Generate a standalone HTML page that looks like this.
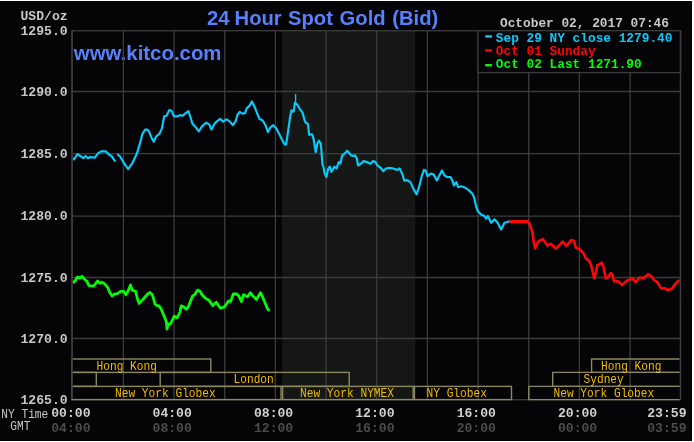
<!DOCTYPE html>
<html><head><meta charset="utf-8"><style>
html,body{margin:0;padding:0;background:#050407;overflow:hidden;}
svg{display:block;will-change:transform;}
.mb{font-family:"Liberation Mono",monospace;font-weight:bold;font-size:13.1px;}
.mb2{font-family:"Liberation Mono",monospace;font-weight:bold;font-size:12.8px;}
.mr{font-family:"Liberation Mono",monospace;font-size:11.2px;}
.mr2{font-family:"Liberation Mono",monospace;font-size:12.8px;}
text{white-space:pre;}
</style></head><body>
<svg width="694" height="442" viewBox="0 0 694 442">
<rect x="0" y="0" width="694" height="442" fill="#ffffff"/>
<rect x="0" y="1" width="692" height="440" fill="#050407"/>
<rect x="282.1" y="30.7" width="133.2" height="369.0" fill="#151715"/>
<text x="207" y="24.8" font-family="Liberation Sans" font-weight="bold" font-size="20.2" fill="#5880fc">24</text>
<text x="234.6" y="24.8" font-family="Liberation Sans" font-weight="bold" font-size="20.2" fill="#5880fc">Hour</text>
<text x="288" y="24.8" font-family="Liberation Sans" font-weight="bold" font-size="20.2" fill="#5880fc">Spot</text>
<text x="339.6" y="24.8" font-family="Liberation Sans" font-weight="bold" font-size="20.2" fill="#5880fc">Gold</text>
<text x="392.3" y="24.8" font-family="Liberation Sans" font-weight="bold" font-size="20.2" fill="#5880fc">(Bid)</text>
<text x="73.8" y="60.2" font-family="Liberation Sans" font-weight="bold" font-size="20.4" fill="#5880fc">www.kitco.com</text>
<line x1="72.1" y1="91.5" x2="680.5" y2="91.5" stroke="#3c3c3c" stroke-width="1.3"/>
<line x1="72.1" y1="153.7" x2="680.5" y2="153.7" stroke="#3c3c3c" stroke-width="1.3"/>
<line x1="72.1" y1="216.1" x2="680.5" y2="216.1" stroke="#3c3c3c" stroke-width="1.3"/>
<line x1="72.1" y1="277.5" x2="680.5" y2="277.5" stroke="#3c3c3c" stroke-width="1.3"/>
<line x1="72.1" y1="338.5" x2="680.5" y2="338.5" stroke="#3c3c3c" stroke-width="1.3"/>
<line x1="123.4" y1="30.7" x2="123.4" y2="399.7" stroke="#3c3c3c" stroke-width="1.3"/>
<line x1="174.0" y1="30.7" x2="174.0" y2="399.7" stroke="#3c3c3c" stroke-width="1.3"/>
<line x1="224.7" y1="30.7" x2="224.7" y2="399.7" stroke="#3c3c3c" stroke-width="1.3"/>
<line x1="275.4" y1="30.7" x2="275.4" y2="399.7" stroke="#3c3c3c" stroke-width="1.3"/>
<line x1="326.1" y1="30.7" x2="326.1" y2="399.7" stroke="#3c3c3c" stroke-width="1.3"/>
<line x1="376.7" y1="30.7" x2="376.7" y2="399.7" stroke="#3c3c3c" stroke-width="1.3"/>
<line x1="427.4" y1="30.7" x2="427.4" y2="399.7" stroke="#3c3c3c" stroke-width="1.3"/>
<line x1="478.1" y1="30.7" x2="478.1" y2="399.7" stroke="#3c3c3c" stroke-width="1.3"/>
<line x1="528.7" y1="30.7" x2="528.7" y2="399.7" stroke="#3c3c3c" stroke-width="1.3"/>
<line x1="579.4" y1="30.7" x2="579.4" y2="399.7" stroke="#3c3c3c" stroke-width="1.3"/>
<line x1="630.1" y1="30.7" x2="630.1" y2="399.7" stroke="#3c3c3c" stroke-width="1.3"/>
<rect x="72.1" y="30.7" width="608.4" height="369.0" fill="none" stroke="#3c3c3c" stroke-width="1.3"/>
<text x="20.5" y="35.0" class="mb" fill="#c8c8c8">1295.0</text>
<text x="20.5" y="95.8" class="mb" fill="#c8c8c8">1290.0</text>
<text x="20.5" y="158.0" class="mb" fill="#c8c8c8">1285.0</text>
<text x="20.5" y="220.4" class="mb" fill="#c8c8c8">1280.0</text>
<text x="20.5" y="281.8" class="mb" fill="#c8c8c8">1275.0</text>
<text x="20.5" y="342.8" class="mb" fill="#c8c8c8">1270.0</text>
<text x="20.5" y="404.0" class="mb" fill="#c8c8c8">1265.0</text>
<text x="20.5" y="19.5" class="mb" fill="#c8c8c8">USD/oz</text>
<text x="500" y="27" class="mb2" fill="#c8c8c8">October 02, 2017 07:46</text>
<rect x="478" y="30.7" width="202.5" height="41.9" fill="#050407" stroke="#3c3c3c" stroke-width="1.3"/>
<rect x="485.2" y="35.2" width="6.7" height="2.4" fill="#0cc8f8"/>
<rect x="485.2" y="49.3" width="6.7" height="2.4" fill="#fa0808"/>
<rect x="485.2" y="64" width="6.7" height="2.4" fill="#08f808"/>
<text x="495.8" y="42" class="mb2" fill="#0cc8f8">Sep 29 NY close 1279.40</text>
<text x="495.8" y="55.2" class="mb2" fill="#fa0808">Oct 01 Sunday</text>
<text x="495.8" y="68.4" class="mb2" fill="#08f808">Oct 02 Last 1271.90</text>
<polyline points="72.3,158.2 74.0,159.4 77.5,154.2 80.4,156.0 83.3,158.2 85.6,156.0 87.9,158.2 90.2,157.1 94.8,157.7 97.7,153.6 101.1,151.3 105.7,151.3 109.2,154.8 111.5,155.9 113.8,159.4 115.5,161.7" fill="none" stroke="#0cc8f8" stroke-width="2.2" stroke-linejoin="round"/>
<polyline points="117.3,154.2 120.1,156.5 124.2,163.4 128.2,169.2 132.2,163.4 136.9,153.6 140.0,143.4 142.3,134.2 145.2,129.6 147.5,129.6 149.2,131.9 151.5,137.7 153.8,141.7 156.1,136.5 159.6,133.6 161.9,128.4 164.2,116.3 166.5,115.7 169.4,110.0 171.7,111.1 174.0,116.3 177.5,116.3 180.3,115.2 182.7,115.7 185.5,113.4 188.4,111.1 190.7,118.0 192.5,123.8 195.3,126.7 198.8,131.3 202.2,126.1 206.3,122.7 209.2,124.4 211.5,129.6 214.9,123.2 217.3,121.1 220.2,118.8 223.1,121.7 226.5,119.4 229.4,121.1 232.9,125.2 235.7,121.1 237.5,114.8 239.8,111.9 242.7,113.6 245.0,113.1 246.7,108.4 249.6,105.6 251.9,101.5 254.8,107.3 257.1,113.1 259.4,118.8 262.8,120.5 265.7,125.7 268.0,132.1 270.3,127.5 273.2,125.2 276.1,128.0 279.1,133.8 282.7,141.0 284.8,144.3 286.1,144.3 288.2,130.8 290.2,116.5 291.5,110.4 293.6,111.7 294.9,102.9 297.0,104.3 299.4,108.3 302.4,112.4 305.1,121.9 307.9,124.0 309.2,134.8 311.9,134.2 313.4,138.0 315.1,148.6 315.7,152.0 317.4,143.5 319.0,140.7 320.7,143.5 321.3,149.1 322.4,163.8 323.6,167.8 324.7,173.5 326.4,176.9 328.1,168.9 329.8,166.7 331.5,171.8 334.3,166.7 336.6,168.4 338.8,162.1 340.5,163.3 342.2,155.4 345.1,153.1 347.3,150.8 349.6,153.7 351.3,155.4 353.6,155.9 355.2,155.4 356.9,158.8 358.1,165.5 360.9,163.8 363.6,161.1 367.7,162.4 370.4,163.8 373.1,161.1 375.1,161.7 377.2,165.1 380.6,167.8 383.3,171.2 386.0,168.5 389.4,167.8 393.5,168.5 396.9,169.9 399.6,168.5 402.3,174.0 404.3,180.7 407.0,180.1 410.4,182.1 413.8,189.6 416.6,194.3 419.3,186.2 422.0,175.3 424.0,169.9 425.6,170.6 427.5,176.1 430.9,173.6 433.5,174.4 436.9,180.4 439.4,175.3 442.0,170.5 444.5,175.3 447.1,177.0 450.5,177.0 453.0,182.1 453.9,185.5 456.4,182.1 458.1,187.2 461.5,186.3 465.8,188.0 469.2,190.6 472.6,194.0 474.3,198.2 476.0,205.9 477.7,211.0 481.0,214.4 484.4,216.0 486.1,218.6 487.8,216.0 491.2,222.8 494.6,219.4 497.7,222.7 501.1,229.4 504.5,222.7 507.2,222.0 509.3,221.3" fill="none" stroke="#0cc8f8" stroke-width="2.2" stroke-linejoin="round"/>
<line x1="509" y1="221.6" x2="528.6" y2="221.6" stroke="#fa0808" stroke-width="3.3"/>
<line x1="295.6" y1="94" x2="295.6" y2="104" stroke="#0cc8f8" stroke-width="1.3"/>
<polyline points="528.3,221.6 529.6,224.0 532.4,232.2 533.7,241.7 535.1,248.5 537.8,242.1 540.0,240.5 543.0,239.1 547.3,245.6 550.7,243.8 555.9,248.6 562.8,241.7 566.3,246.0 571.5,239.9 574.1,241.2 575.8,247.7 579.3,249.0 583.6,253.3 586.0,258.7 589.1,260.7 591.1,265.3 592.6,271.4 594.2,278.5 595.7,273.4 597.2,265.3 599.3,264.3 601.8,262.7 603.3,266.3 605.9,278.5 607.9,277.5 611.0,272.9 612.5,275.0 614.0,281.1 618.6,281.6 622.2,285.1 625.7,281.6 628.8,280.0 632.4,278.3 635.8,282.2 639.2,277.7 643.7,277.7 648.3,274.3 651.1,276.0 653.9,280.0 657.3,282.2 661.3,288.4 665.2,288.4 667.5,290.1 671.5,289.0 675.4,283.9 679.4,280.0" fill="none" stroke="#fa0808" stroke-width="2.6" stroke-linejoin="round"/>
<polyline points="72.3,282.7 75.2,281.0 77.5,276.9 79.8,278.1 82.1,276.3 84.4,279.2 86.7,281.0 89.0,285.6 93.6,286.1 97.7,281.0 100.0,283.3 101.7,282.1 104.6,283.8 108.0,287.9 109.8,292.5 112.1,295.9 114.4,294.2 117.3,293.6 120.7,291.3 123.6,291.3 125.9,294.8 128.2,290.7 130.5,285.0 132.2,290.2 135.7,291.3 137.4,298.8 139.2,303.4 142.0,300.5 145.5,296.5 147.7,294.0 150.0,292.4 152.3,294.6 155.1,304.2 157.4,305.9 159.0,305.9 161.3,309.3 163.6,315.0 166.4,321.8 167.0,329.1 168.1,324.0 170.4,324.0 174.3,316.1 177.1,317.8 180.0,312.1 181.1,305.9 183.9,307.1 186.2,309.3 188.5,306.5 192.4,296.3 195.2,294.0 197.5,290.1 200.0,291.2 202.0,294.7 206.1,298.8 208.8,300.1 212.9,305.6 216.3,302.2 220.4,308.3 224.5,306.9 228.6,300.8 230.6,301.5 233.3,294.0 236.7,294.0 238.8,296.1 241.5,301.5 243.5,294.7 247.6,296.7 250.3,292.7 253.0,296.1 256.4,299.4 260.5,292.7 262.5,296.7 265.3,303.5 267.3,308.3 269.3,311.0" fill="none" stroke="#08f808" stroke-width="2.8" stroke-linejoin="round"/>
<rect x="71.5" y="359" width="139.3" height="13.4" fill="none" stroke="#8c8860" stroke-width="1.4"/>
<rect x="71.5" y="372.4" width="24.8" height="14.0" fill="none" stroke="#8c8860" stroke-width="1.4"/>
<rect x="160.2" y="372.4" width="189.0" height="14.0" fill="none" stroke="#8c8860" stroke-width="1.4"/>
<rect x="71.5" y="386.4" width="209.5" height="13.2" fill="none" stroke="#8c8860" stroke-width="1.4"/>
<rect x="282.6" y="386.4" width="130.6" height="13.2" fill="none" stroke="#8c8860" stroke-width="1.4"/>
<rect x="414.4" y="386.4" width="97.1" height="13.2" fill="none" stroke="#8c8860" stroke-width="1.4"/>
<path d="M679.6 386.4H528.8V399.6H679.6" fill="none" stroke="#8c8860" stroke-width="1.4"/>
<path d="M679.6 372.4H552.7V386.4H679.6" fill="none" stroke="#8c8860" stroke-width="1.4"/>
<path d="M679.6 359H591.6V372.4H679.6" fill="none" stroke="#8c8860" stroke-width="1.4"/>
<text transform="translate(96.5 369.6) scale(0.875 1)" class="mr2" fill="#f0bc00">Hong Kong</text>
<text transform="translate(233.5 383.2) scale(0.875 1)" class="mr2" fill="#f0bc00">London</text>
<text transform="translate(115 396.8) scale(0.875 1)" class="mr2" fill="#f0bc00">New York Globex</text>
<text transform="translate(300 396.8) scale(0.875 1)" class="mr2" fill="#f0bc00">New York NYMEX</text>
<text transform="translate(426.5 396.8) scale(0.875 1)" class="mr2" fill="#f0bc00">NY Globex</text>
<text transform="translate(553.5 396.8) scale(0.875 1)" class="mr2" fill="#f0bc00">New York Globex</text>
<text transform="translate(583.5 383.2) scale(0.875 1)" class="mr2" fill="#f0bc00">Sydney</text>
<text transform="translate(601 369.6) scale(0.875 1)" class="mr2" fill="#f0bc00">Hong Kong</text>
<line x1="680.5" y1="30.7" x2="680.5" y2="399.7" stroke="#3c3c3c" stroke-width="1.3"/>
<rect x="69" y="350" width="2.3" height="55" fill="#050407"/>
<line x1="72.1" y1="30.7" x2="72.1" y2="398.9" stroke="#3c3c3c" stroke-width="1.6"/>
<text transform="translate(1.3 417.6) scale(0.875 1)" class="mr2" fill="#c8c8c8">NY Time</text>
<text transform="translate(10.3 429.6) scale(0.875 1)" class="mr2" fill="#c8c8c8">GMT</text>
<text x="70.9" y="416.9" class="mb" text-anchor="middle" fill="#d0d0d0">00:00</text>
<text x="70.9" y="431.5" class="mb" text-anchor="middle" fill="#4c4c4c">04:00</text>
<text x="172.2" y="416.9" class="mb" text-anchor="middle" fill="#d0d0d0">04:00</text>
<text x="172.2" y="431.5" class="mb" text-anchor="middle" fill="#4c4c4c">08:00</text>
<text x="273.6" y="416.9" class="mb" text-anchor="middle" fill="#d0d0d0">08:00</text>
<text x="273.6" y="431.5" class="mb" text-anchor="middle" fill="#4c4c4c">12:00</text>
<text x="374.9" y="416.9" class="mb" text-anchor="middle" fill="#d0d0d0">12:00</text>
<text x="374.9" y="431.5" class="mb" text-anchor="middle" fill="#4c4c4c">16:00</text>
<text x="476.3" y="416.9" class="mb" text-anchor="middle" fill="#d0d0d0">16:00</text>
<text x="476.3" y="431.5" class="mb" text-anchor="middle" fill="#4c4c4c">20:00</text>
<text x="577.6" y="416.9" class="mb" text-anchor="middle" fill="#d0d0d0">20:00</text>
<text x="577.6" y="431.5" class="mb" text-anchor="middle" fill="#4c4c4c">00:00</text>
<text x="686.5" y="416.9" class="mb" text-anchor="end" fill="#d0d0d0">23:59</text>
<text x="686.5" y="431.5" class="mb" text-anchor="end" fill="#4c4c4c">03:59</text>
</svg>
</body></html>
